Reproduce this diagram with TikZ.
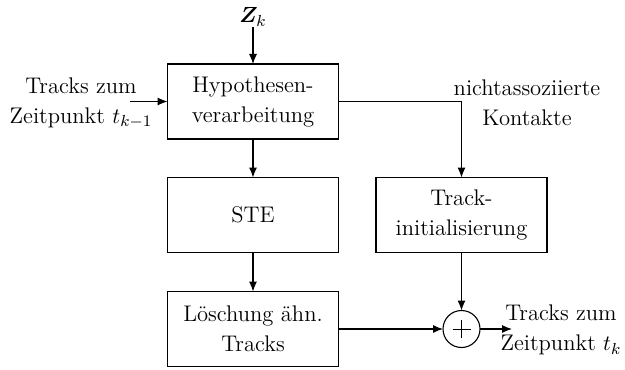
\documentclass[tikz,border=0pt]{standalone}
\usepackage{bm}
\usetikzlibrary{arrows.meta}
\tikzset{
  blk/.style={draw, line width=0.55pt, minimum width=85.5pt, minimum height=37.5pt,
    inner sep=0pt, outer sep=0pt, align=center},
  sumnode/.style={draw, circle, line width=0.55pt, minimum size=18.5pt, inner sep=0pt, outer sep=0pt},
  lbl/.style={align=center, inner sep=0pt},
  conn/.style={line width=0.55pt, -{Latex[length=5pt,width=4pt]}},
  plain/.style={line width=0.5pt}
}
\begin{document}
\begin{tikzpicture}[x=0.5pt, y=-0.5pt, font=\fontsize{11.3}{15}\selectfont]
  \useasboundingbox (0,0) rectangle (625,369);

  % processing blocks
  \node[blk] (hyp)  at (253,101.5) {Hypothesen-\\verarbeitung};
  \node[blk] (ste)  at (253,215) {STE};
  \node[blk] (los)  at (253,329) {Löschung ähn.\\Tracks};
  \node[blk] (init) at (461.5,215) {Track-\\initialisierung};
  \node[sumnode] (sum) at (461.5,329) {};
  \draw[plain] ([xshift=-4.5pt]sum.center) -- ([xshift=4.5pt]sum.center)
               ([yshift=-4.5pt]sum.center) -- ([yshift=4.5pt]sum.center);

  % inputs and outputs
  \node[lbl] (z) at (253,17) {$\bm{Z}_k$};
  \coordinate (zin) at (253,27);
  \node[lbl] (tin) at (81,103) {Tracks zum\\Zeitpunkt $t_{k-1}$};
  \coordinate (tinend) at (130,101.5);
  \node[lbl] (nak) at (527,103) {nichtassoziierte\\Kontakte};
  \coordinate (corner) at (461.5,101.5);
  \coordinate (outend) at (512,329);
  \node[lbl] (tout) at (561,330) {Tracks zum\\Zeitpunkt $t_k$};

  % connectors
  \draw[conn] (zin) -- (hyp.north);
  \draw[conn] (tinend) -- (hyp.west);
  \draw[conn] (hyp.south) -- (ste.north);
  \draw[conn] (ste.south) -- (los.north);
  \draw[conn] (hyp.east) -- (corner) -- (init.north);
  \draw[conn] (init.south) -- (sum.north);
  \draw[conn] (los.east) -- (sum.west);
  \draw[conn] (sum.east) -- (outend);
\end{tikzpicture}
\end{document}
